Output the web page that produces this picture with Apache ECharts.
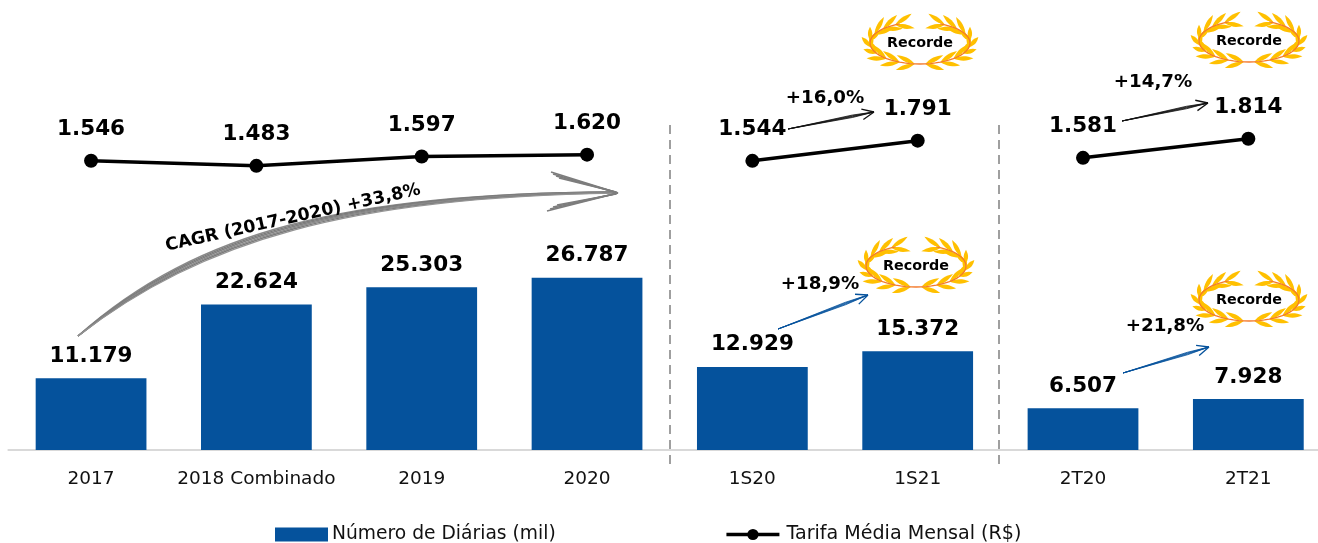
<!DOCTYPE html>
<html>
<head>
<meta charset="utf-8">
<style>html,body{margin:0;padding:0;background:#fff}#c{width:1318px;height:543px}</style>
<script src="https://cdn.jsdelivr.net/npm/echarts@6/dist/echarts.min.js"></script>
</head>
<body>
<div id="c"></div>
<script>
const categories = ['2017','2018 Combinado','2019','2020','1S20','1S21','2T20','2T21'];
const diarias = [11179,22624,25303,26787,12929,15372,6507,7928];
const tarifa = [1546,1483,1597,1620,1544,1791,1581,1814];
const FONT = '"DejaVu Sans"';
const BLUE = '#05529c';
const fmt = v => String(v).replace(/\B(?=(\d{3})+$)/g,'.');
const lineName = 'Tarifa Média Mensal (R$)';
const barName = 'Número de Diárias (mil)';

function segment(from,to){
  return tarifa.map((v,i)=> (i>=from && i<to) ? v : '-');
}
function lineSeries(from,to){
  return {
    name: lineName, type:'line', yAxisIndex:1, z:5,
    data: segment(from,to),
    symbol:'circle', symbolSize:14,
    lineStyle:{color:'#000',width:3.5},
    itemStyle:{color:'#000'},
    label:{show:true,position:'top',distance:13,color:'#000',
      fontFamily:FONT,fontWeight:'bold',fontSize:21.5,
      formatter:p=>fmt(p.value)}
  };
}

const gfx = [];
function seg(x1,y1,x2,y2,color,w){
  gfx.push({type:'line',silent:true,z:10,shape:{x1,y1,x2,y2},style:{stroke:color,lineWidth:w}});
}
function txt(x,y,text,size,rotation){
  gfx.push({type:'text',silent:true,z:12,x,y,rotation:rotation||0,
    style:{text,fill:'#000',font:'bold '+size+'px '+FONT,align:'center',verticalAlign:'middle'}});
}
function sketchArrow(x1,y1,x2,y2,color){
  const a=Math.atan2(y2-y1,x2-x1), nx=-Math.sin(a), ny=Math.cos(a);
  [-1.2,-0.6,0,0.6,1.2].forEach(o=>{
    const mx=x1+(x2-x1)*0.75+nx*o, my=y1+(y2-y1)*0.75+ny*o;
    seg(x1,y1,mx,my,color,0.8);
    seg(mx,my,x2,y2,color,0.8);
  });
  const h=13;
  [a+0.42,a-0.42].forEach(b=>seg(x2,y2,x2-h*Math.cos(b),y2-h*Math.sin(b),color,1.3));
}
function wreath(cx,cy){
  const rx=50, ry=21, leaf='#ffc000', stem='#f47a2b';
  [-1,1].forEach(side=>{
    const pts=[];
    for(let d=90;d<=250;d+=6){
      const t=d*Math.PI/180;
      pts.push([cx+side*rx*Math.cos(t), cy+ry*Math.sin(t)]);
    }
    gfx.push({type:'polyline',silent:true,z:9,shape:{points:pts},style:{stroke:stem,lineWidth:1.3,fill:null}});
    for(let i=1;i<pts.length-1;i+=3){
      const p=pts[i], q=pts[i+1];
      const a=Math.atan2(q[1]-p[1],q[0]-p[0]);
      const sideZone = i>7 && i<19;
      [0.38,-0.38].forEach(off=>{
        const b=a+off, L=sideZone?14:20, W=2.2;
        const poly=[];
        for(let k=0;k<=8;k++){
          const u=k/8, w=W*Math.sin(u*Math.PI);
          poly.push([p[0]+L*u*Math.cos(b)-w*Math.sin(b),p[1]+L*u*Math.sin(b)+w*Math.cos(b)]);
        }
        for(let k=8;k>=0;k--){
          const u=k/8, w=W*Math.sin(u*Math.PI);
          poly.push([p[0]+L*u*Math.cos(b)+w*Math.sin(b),p[1]+L*u*Math.sin(b)-w*Math.cos(b)]);
        }
        gfx.push({type:'polygon',silent:true,z:8,shape:{points:poly},style:{fill:leaf}});
      });
    }
  });
  txt(cx,cy,'Recorde',14.3);
}

// separators
[[670,125,470],[999,125,465]].forEach(([x,y1,y2])=>{
  gfx.push({type:'line',silent:true,z:3,shape:{x1:x,y1,x2:x,y2},
    style:{stroke:'#808080',lineWidth:1.5,lineDash:[9,6]}});
});

// big curved arrow
[[-5,-2.2,1.4,'#8a8a8a'],[-3,-1.4,1.5,'#7a7a7a'],[-1,-0.5,1.5,'#7f7f7f'],[1,0.4,1.5,'#8a8a8a'],[3,1.3,1.4,'#7a7a7a'],[5,2.2,1.2,'#949494']].forEach(([d1,d2,w,c])=>{
  gfx.push({type:'bezierCurve',silent:true,z:6,
    shape:{x1:78,y1:336,cpx1:200+d1*0.6,cpy1:235+d1,cpx2:350,cpy2:195+d2,x2:614,y2:192.5+d2*0.3},
    style:{stroke:c,lineWidth:w,fill:null}});
});
[[551,172,618,193],[553,174,618,193],[556,176,617,192.5],[559,178,616,192],
 [547,211,618,193],[550,209,618,193],[553,207,617,193.5],[557,205,616,194]].forEach(s=>seg(s[0],s[1],s[2],s[3],'#7d7d7d',1.5));
txt(293,218,'CAGR (2017-2020) +33,8%',17.4,0.22);

// small arrows
sketchArrow(788,129,874,112,'#111');
sketchArrow(1122,121,1208,103,'#111');
sketchArrow(778,329,868,295,BLUE);
sketchArrow(1123,373,1209,347,BLUE);
txt(825,98,'+16,0%',18.2);
txt(1153,82,'+14,7%',18.2);
txt(820,284,'+18,9%',18.2);
txt(1165,326,'+21,8%',18.2);

wreath(920,43);
wreath(1249,41);
wreath(916,266);
wreath(1249,300);

const chart = echarts.init(document.getElementById('c'),null,{renderer:'canvas'});
chart.setOption({
  animation:false,
  backgroundColor:'#fff',
  grid:{left:8.4,width:1322.6,top:0,height:450,containLabel:false,outerBoundsMode:'none'},
  legend:{
    left:270,top:520,itemGap:169,itemWidth:53,itemHeight:14,
    data:[
      {name:barName,icon:'rect'},
      {name:lineName,lineStyle:{width:3.5,color:'#000'},textStyle:{fontFamily:FONT,fontSize:19.1,color:'#111',padding:[0,0,0,2]}}
    ],
    selectedMode:false,
    textStyle:{fontFamily:FONT,fontSize:18.7,color:'#111',padding:[0,0,0,-1]}
  },
  xAxis:{type:'category',data:categories,
    axisLine:{lineStyle:{color:'#d9d9d9',width:2}},
    axisTick:{show:false},
    axisLabel:{interval:0,margin:20,color:'#111',fontFamily:FONT,fontSize:18.5}
  },
  yAxis:[
    {type:'value',min:0,max:70000,show:false,splitLine:{show:false}},
    {type:'value',min:-1990,max:3510,show:false,splitLine:{show:false}}
  ],
  series:[
    {name:barName,type:'bar',data:diarias,barWidth:'67%',
      itemStyle:{color:BLUE},
      label:{show:true,position:'top',distance:11,color:'#000',
        fontFamily:FONT,fontWeight:'bold',fontSize:21.5,
        formatter:p=>fmt(p.value)}},
    lineSeries(0,4),
    lineSeries(4,6),
    lineSeries(6,8)
  ],
  graphic:gfx
});
</script>
</body>
</html>
